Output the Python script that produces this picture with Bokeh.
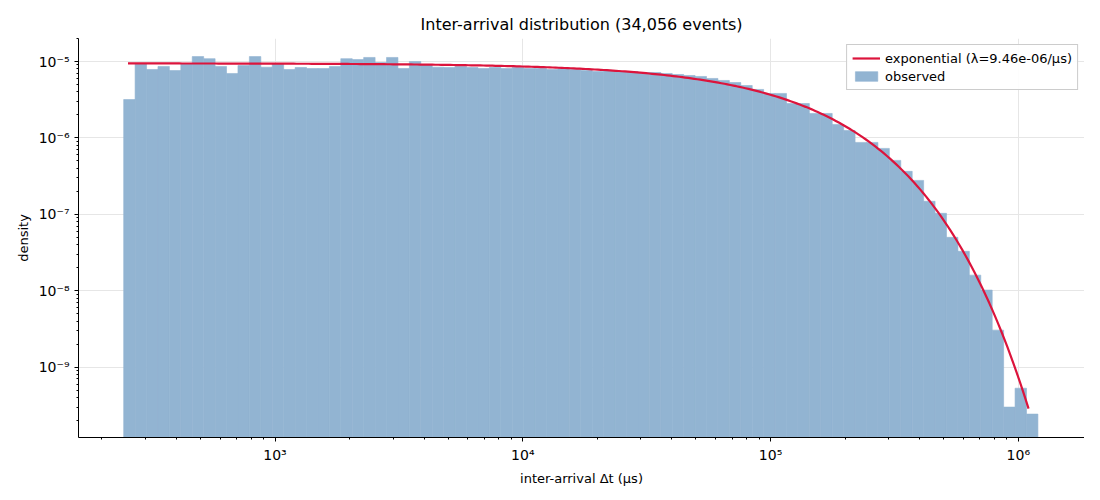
import numpy as np
from bokeh.plotting import figure
from bokeh.models import Range1d, CustomJSTickFormatter, Legend, LegendItem, FixedTicker
from bokeh.embed import file_html
from bokeh.resources import INLINE

density = [3.18e-6, 9.33e-6, 7.86e-6, 8.61e-6, 7.62e-6, 9.33e-6, 1.16e-5, 1.09e-5, 8.61e-6, 6.97e-6,
           8.87e-6, 1.16e-5, 8.42e-6, 9.33e-6, 7.86e-6, 8.35e-6, 8.10e-6, 8.10e-6, 8.61e-6, 1.09e-5,
           1.06e-5, 1.13e-5, 9.70e-6, 1.13e-5, 8.10e-6, 1.0e-5, 9.14e-6, 8.42e-6, 8.35e-6, 8.61e-6,
           8.35e-6, 8.10e-6, 8.35e-6, 8.10e-6, 8.35e-6, 8.10e-6, 8.10e-6, 7.86e-6, 8.10e-6, 7.86e-6,
           7.62e-6, 7.40e-6, 7.62e-6, 7.40e-6, 7.40e-6, 7.18e-6, 7.18e-6, 6.97e-6, 6.76e-6, 6.56e-6,
           6.37e-6, 6.00e-6, 5.65e-6, 5.31e-6, 4.85e-6, 4.31e-6, 3.82e-6, 3.82e-6, 2.82e-6, 2.82e-6,
           2.09e-6, 2.09e-6, 1.50e-6, 1.25e-6, 8.73e-7, 8.73e-7, 7.29e-7, 5.08e-7, 3.65e-7, 2.78e-7,
           1.48e-7, 1.03e-7, 5.0e-8, 3.28e-8, 1.6e-8, 1.02e-8, 3.05e-9, 3.0e-10, 5.3e-10, 2.43e-10]
t_min, t_max = 245.0, 1.2e6
lam = 9.46e-6
n_events = 34056

edges = np.geomspace(t_min, t_max, len(density) + 1)
t = np.geomspace(255, 1.1e6, 300)
fit = lam * np.exp(-lam * t)

p = figure(width=1084, height=488, x_axis_type="log", y_axis_type="log",
           output_backend="svg", toolbar_location=None,
           title=f"Inter-arrival distribution ({n_events:,} events)",
           x_range=Range1d(161, 1.85e6), y_range=Range1d(1.2e-10, 2e-5),
           min_border_left=78, min_border_right=0, min_border_top=38, min_border_bottom=38)
p.title.align = "center"
p.title.text_font = "DejaVu Sans"
p.title.text_font_size = "16px"
p.title.text_font_style = "normal"
p.title.text_color = "black"
p.outline_line_color = None

bars = p.quad(left=edges[:-1], right=edges[1:], bottom=1e-12, top=density,
              fill_color="#92b4d2", line_color="#92b4d2", line_width=0.6)
ln = p.line(t, fit, line_color="#dc143c", line_width=2.2)

fmt = CustomJSTickFormatter(code="""
const sup = {'-':'\u207b','0':'\u2070','1':'\u00b9','2':'\u00b2','3':'\u00b3','4':'\u2074','5':'\u2075','6':'\u2076','7':'\u2077','8':'\u2078','9':'\u2079'};
const e = Math.round(Math.log10(tick));
return '10' + String(e).split('').map(c => sup[c]).join('');
""")
for ax in (p.xaxis[0], p.yaxis[0]):
    ax.formatter = fmt
    ax.major_label_text_font = "DejaVu Sans"
    ax.major_label_text_font_size = "14px"
    ax.major_label_text_color = "black"
    ax.axis_label_text_font = "DejaVu Sans"
    ax.axis_label_text_font_size = "13px"
    ax.axis_label_text_font_style = "normal"
    ax.axis_label_text_color = "black"
    ax.axis_line_color = "black"
    ax.major_tick_line_color = "black"
    ax.minor_tick_line_color = "black"
    ax.major_tick_out = 4
    ax.major_tick_in = 0
    ax.minor_tick_in = 0
    ax.minor_tick_out = 2
p.xaxis.ticker = FixedTicker(ticks=[1e3, 1e4, 1e5, 1e6],
                             minor_ticks=[m * 10**k for k in range(2, 7) for m in range(2, 10)])
p.yaxis.ticker = FixedTicker(ticks=[1e-9, 1e-8, 1e-7, 1e-6, 1e-5],
                             minor_ticks=[m * 10.0**k for k in range(-10, -4) for m in range(2, 10)])
p.xaxis.axis_label = "inter-arrival Δt (μs)"
p.yaxis.axis_label = "density"
p.grid.grid_line_color = "#e6e6e6"
p.grid.minor_grid_line_color = None

legend = Legend(items=[LegendItem(label="exponential (λ=9.46e-06/μs)", renderers=[ln]),
                       LegendItem(label="observed", renderers=[bars])],
                location="top_right", label_text_font="DejaVu Sans", label_text_font_size="13px",
                label_text_color="black",
                border_line_color="#cccccc", border_line_alpha=1, background_fill_alpha=0.9,
                padding=5, spacing=2, label_height=16, glyph_height=12, glyph_width=28, margin=6)
p.add_layout(legend)

open("out.html", "w").write(file_html(p, INLINE))
